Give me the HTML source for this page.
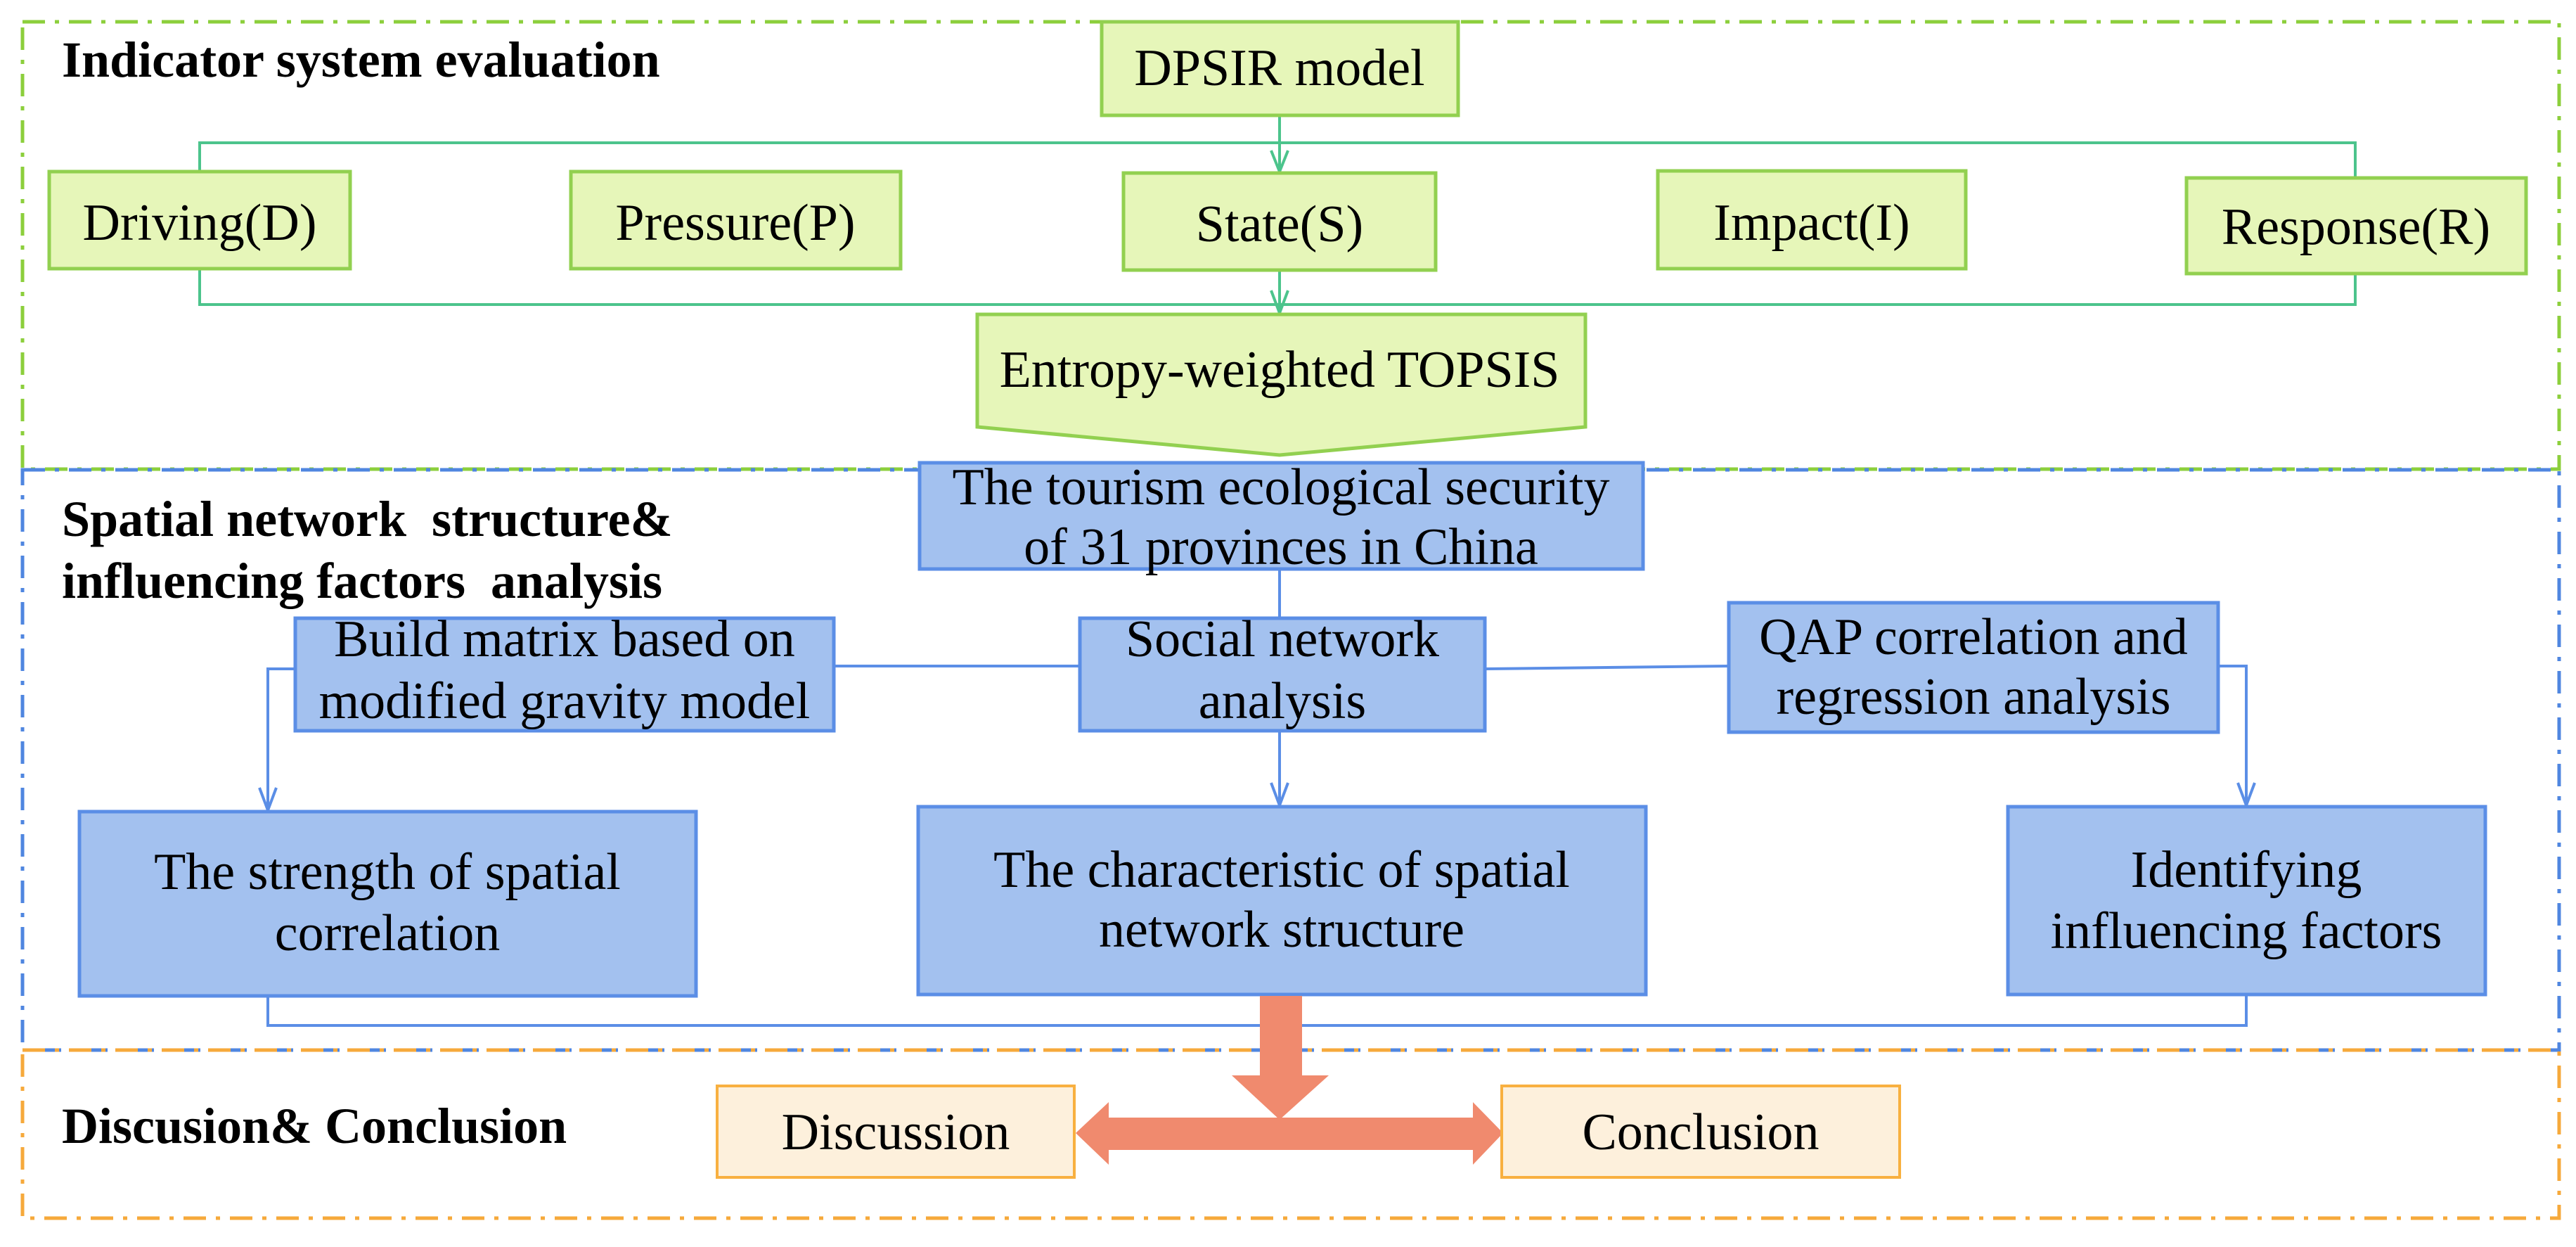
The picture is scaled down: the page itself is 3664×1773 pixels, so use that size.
<!DOCTYPE html>
<html><head><meta charset="utf-8"><style>html,body{margin:0;padding:0;background:#fff}svg{display:block}</style></head>
<body>
<svg width="3664" height="1773" viewBox="0 0 3664 1773" xmlns="http://www.w3.org/2000/svg" font-family="Liberation Serif, serif">
<!-- section borders -->
<rect x="32" y="31" width="3608" height="636" fill="none" stroke="#8ccf3c" stroke-width="5" stroke-dasharray="32,14,6,14"/>
<rect x="32" y="668" width="3608" height="825" fill="none" stroke="#4f86e0" stroke-width="5" stroke-dasharray="32,14,6,14"/>
<rect x="32" y="1493" width="3608" height="239" fill="none" stroke="#f6a93b" stroke-width="5" stroke-dasharray="32,14,6,14"/>

<!-- green connectors -->
<g stroke="#4cc48c" stroke-width="4" fill="none">
<polyline points="284,244 284,203 3350,203 3350,253"/>
<polyline points="284,382 284,433 3350,433 3350,389"/>
<line x1="1820" y1="164" x2="1820" y2="244"/>
<line x1="1820" y1="384" x2="1820" y2="445"/>
<path d="M1808,214 L1820,244 L1832,214"/>
<path d="M1808,413 L1820,445 L1832,413"/>
</g>

<!-- green boxes -->
<g fill="#e6f6b9" stroke="#92d050" stroke-width="5">
<rect x="1567" y="31" width="507" height="133"/>
<rect x="70" y="244" width="428" height="138"/>
<rect x="812" y="244" width="469" height="138"/>
<rect x="1598" y="246" width="444" height="138"/>
<rect x="2358" y="243" width="438" height="139"/>
<rect x="3110" y="253" width="483" height="136"/>
<polygon points="1390,447 2255,447 2255,607 1820,647 1390,607"/>
</g>

<!-- blue connectors -->
<g stroke="#5b8ee6" stroke-width="4" fill="none">
<line x1="1820" y1="809" x2="1820" y2="879"/>
<line x1="1186" y1="947" x2="1536" y2="947"/>
<line x1="2112" y1="951" x2="2459" y2="947"/>
<polyline points="420,951 381,951 381,1152"/>
<polyline points="3155,947 3195,947 3195,1145"/>
<line x1="1820" y1="1039" x2="1820" y2="1145"/>
<polyline points="381,1416 381,1458 3195,1458 3195,1414"/>
<path d="M369,1120 L381,1152 L393,1120"/>
<path d="M1808,1113 L1820,1145 L1832,1113"/>
<path d="M3183,1113 L3195,1145 L3207,1113"/>
</g>

<!-- blue boxes -->
<g fill="#a3c1ef" stroke="#5b8ee6" stroke-width="5">
<rect x="1308" y="658" width="1029" height="151"/>
<rect x="420" y="879" width="766" height="160"/>
<rect x="1536" y="879" width="576" height="160"/>
<rect x="2459" y="857" width="696" height="184"/>
<rect x="113" y="1154" width="877" height="262"/>
<rect x="1306" y="1147" width="1035" height="267"/>
<rect x="2856" y="1147" width="679" height="267"/>
</g>

<!-- orange arrows -->
<g fill="#f08a6e">
<polygon points="1792,1416 1852,1416 1852,1529 1890,1529 1820,1592 1752,1529 1792,1529"/>
<polygon points="1530,1611 1577,1567 1577,1589 2095,1589 2095,1567 2138,1611 2095,1656 2095,1635 1577,1635 1577,1656"/>
</g>
<g fill="#fdf0dc" stroke="#f8b040" stroke-width="4">
<rect x="1020" y="1544" width="508" height="130"/>
<rect x="2136" y="1544" width="566" height="130"/>
</g>

<!-- titles -->
<g font-weight="bold" font-size="72" fill="#000">
<text x="88" y="109">Indicator system evaluation</text>
<text x="88" y="762" xml:space="preserve">Spatial network  structure&amp;</text>
<text x="88" y="850" xml:space="preserve">influencing factors  analysis</text>
<text x="88" y="1625">Discusion&amp; Conclusion</text>
</g>

<!-- box text -->
<g font-size="74" fill="#000" text-anchor="middle">
<text x="1820" y="121">DPSIR model</text>
<text x="284" y="341">Driving(D)</text>
<text x="1046" y="341">Pressure(P)</text>
<text x="1820" y="343">State(S)</text>
<text x="2577" y="341">Impact(I)</text>
<text x="3351" y="347">Response(R)</text>
<text x="1820" y="550">Entropy-weighted TOPSIS</text>
<text x="1822" y="717">The tourism ecological security</text>
<text x="1822" y="802">of 31 provinces in China</text>
<text x="803" y="933">Build matrix based on</text>
<text x="803" y="1021">modified gravity model</text>
<text x="1824" y="933">Social network</text>
<text x="1824" y="1021">analysis</text>
<text x="2807" y="930">QAP correlation and</text>
<text x="2807" y="1015">regression analysis</text>
<text x="551" y="1264">The strength of spatial</text>
<text x="551" y="1351">correlation</text>
<text x="1823" y="1261">The characteristic of spatial</text>
<text x="1823" y="1346">network structure</text>
<text x="3195" y="1261">Identifying</text>
<text x="3195" y="1348">influencing factors</text>
<text x="1274" y="1634">Discussion</text>
<text x="2419" y="1634">Conclusion</text>
</g>
</svg>
</body></html>
